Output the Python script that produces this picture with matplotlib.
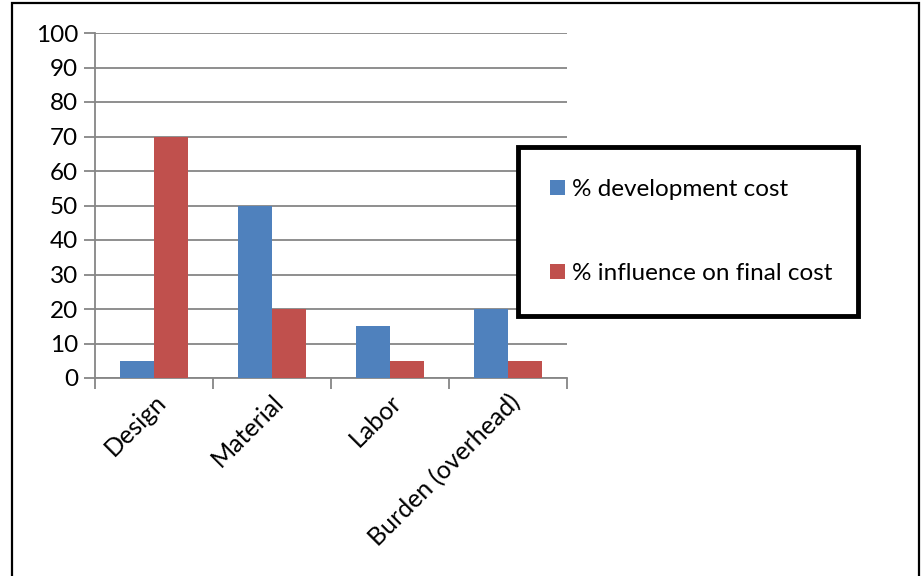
import numpy as np
import matplotlib.pyplot as plt
from matplotlib.patches import Rectangle

categories = ['Design', 'Material', 'Labor', 'Burden (overhead)']
dev_cost = [5, 50, 15, 20]
final_cost = [70, 20, 5, 5]
labels = ['% development cost', '% influence on final cost']

plt.rcParams['font.family'] = ['Lato', 'DejaVu Sans']

fig = plt.figure(figsize=(9.23, 5.76), dpi=100)
ax = fig.add_axes([95/923, 1-378/576, (567-95)/923, (378-33)/576])

x = np.arange(len(categories))
w = 0.285
ax.bar(x - w/2, dev_cost, w, color='#4F81BD', label=labels[0], zorder=3)
ax.bar(x + w/2, final_cost, w, color='#C0504D', label=labels[1], zorder=3)

ax.set_xlim(-0.5, len(categories) - 0.5)
ax.set_ylim(0, 100)
ax.set_yticks(range(0, 101, 10))
ax.yaxis.grid(True, color='#868686', lw=1.3, zorder=0)
ax.set_xticks(np.arange(len(categories) + 1) - 0.5, minor=False)
ax.set_xticklabels([])
ax.set_xticks(x, minor=True)
ax.set_xticklabels(categories, minor=True, rotation=45, ha='right',
                   rotation_mode='anchor', fontsize=18)
ax.tick_params(axis='x', which='minor', length=0, pad=9)
ax.tick_params(axis='x', which='major', length=8, color='#868686', width=1.3)
ax.tick_params(axis='y', length=8, color='#868686', width=1.3, labelsize=17.5, pad=4)
for s in ['top', 'right']:
    ax.spines[s].set_visible(False)
for s in ['left', 'bottom']:
    ax.spines[s].set_color('#868686')
    ax.spines[s].set_linewidth(1.3)

leg = fig.legend(loc='upper left', bbox_to_anchor=(518/923, 1-147/576, 340/923, 0),
                 mode='expand', fontsize=17.5, frameon=True, fancybox=False,
                 framealpha=1, handlelength=0.6, handleheight=0.6, handletextpad=0.3,
                 labelspacing=2.6, borderpad=1.32, borderaxespad=0)
leg.get_frame().set_edgecolor('black')
leg.get_frame().set_linewidth(3.5)

fig.patches.append(Rectangle((12/923, -0.05), (919-12)/923, 1.05-3/576,
                             transform=fig.transFigure, fill=False,
                             edgecolor='black', lw=1.6))

fig.savefig('out.png', dpi=100)
